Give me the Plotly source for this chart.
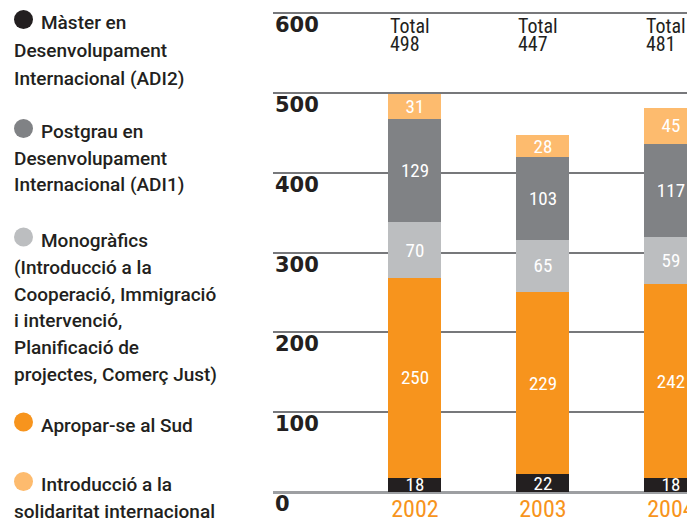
import plotly.graph_objects as go

YEARS = ['2002', '2003', '2004']
MASTER_ADI2 = [18, 22, 18]
APROPAR_SUD = [250, 229, 242]
MONOGRAFICS = [70, 65, 59]
POSTGRAU_ADI1 = [129, 103, 117]
INTRO_SOLIDARITAT = [31, 28, 45]
Y_TICKS = [0, 100, 200, 300, 400, 500, 600]

LEGEND_ITEMS = [
  ['Màster en', 'Desenvolupament', 'Internacional (ADI2)'],
  ['Postgrau en', 'Desenvolupament', 'Internacional (ADI1)'],
  ['Monogràfics', '(Introducció a la', 'Cooperació, Immigració',
   'i intervenció,', 'Planificació de', 'projectes, Comerç Just)'],
  ['Apropar-se al Sud'],
  ['Introducció a la', 'solidaritat internacional'],
]

# page body has an 8px margin, so the figure is drawn 8px smaller
OFF = 8
W, H = 695 - OFF, 519 - OFF
DARK = '#231f20'
COLORS = ['#231f20', '#808285', '#bcbec0', '#f7941d', '#fdbb6e']  # legend order
NARROW = 'Liberation Sans Narrow, Roboto Condensed, Arial Narrow, sans-serif'
LEGEND_FONT = 'Roboto, Liberation Sans, sans-serif'

def px(x):
  # screen pixel -> paper x
  return (x - OFF) / W

def py(y):
  # screen pixel -> paper y
  return 1 - (y - OFF) / H

# stacked from bottom to top
series = [
  ('Màster ADI2', MASTER_ADI2, COLORS[0]),
  ('Apropar-se al Sud', APROPAR_SUD, COLORS[3]),
  ('Monogràfics', MONOGRAFICS, COLORS[2]),
  ('Postgrau ADI1', POSTGRAU_ADI1, COLORS[1]),
  ('Introducció', INTRO_SOLIDARITAT, COLORS[4]),
]

fig = go.Figure()
for name, vals, col in series:
  fig.add_trace(go.Bar(
    x=YEARS, y=vals, name=name, marker_color=col, marker_line_width=0,
    width=0.414, text=[str(v) for v in vals], textposition='inside',
    insidetextanchor='middle', textangle=0,
    textfont=dict(family=NARROW, size=19, color='white'),
  ))

totals = [sum(t) for t in zip(MASTER_ADI2, APROPAR_SUD, MONOGRAFICS, POSTGRAU_ADI1, INTRO_SOLIDARITAT)]

annotations = []
for i, tot in enumerate(totals):
  for label, shift in (('Total', 1), (str(tot), -17)):
    annotations.append(dict(
      x=i, y=600, xref='x', yref='y', xanchor='left', yanchor='top',
      xshift=-27, yshift=shift, text=label, showarrow=False,
      font=dict(family=NARROW, size=20, color=DARK),
    ))

for t in Y_TICKS:
  annotations.append(dict(
    x=px(273), y=t, xref='paper', yref='y', xanchor='left', yanchor='top',
    yshift=2, text='<b>%d</b>' % t, showarrow=False,
    font=dict(family='DejaVu Sans', size=21, color=DARK),
  ))

# legend on the left, drawn by hand
line_y = [[22.5, 50, 78], [131.5, 158.5, 185], [240, 267, 294, 320.5, 347, 374],
          [425], [484.5, 511]]
shapes = []
for item, ys, col in zip(LEGEND_ITEMS, line_y, COLORS):
  for k, (txt, y) in enumerate(zip(item, ys)):
    annotations.append(dict(
      x=px(39 if k == 0 else 12), y=py(y), xref='paper', yref='paper',
      xanchor='left', yanchor='middle', text=txt, showarrow=False,
      font=dict(family=LEGEND_FONT, size=19, color=DARK, weight=500),
    ))
  cy = ys[0] - 3
  shapes.append(dict(
    type='circle', xref='paper', yref='paper', x0=px(14), x1=px(33),
    y0=py(cy + 9.5), y1=py(cy - 9.5), fillcolor=col, line_width=0,
  ))

# 0 at screen y=492, 600 at y=13
unit = (492 - 13) / 600
ytop = 602

fig.update_layout(
  width=W, height=H, barmode='stack', showlegend=False,
  margin=dict(l=0, r=0, t=0, b=0),
  paper_bgcolor='white', plot_bgcolor='white',
  annotations=annotations, shapes=shapes,
  uniformtext=dict(minsize=19, mode='show'),
  xaxis=dict(
    domain=[px(273), 1], type='category', range=[-1.109, 2.188],
    showgrid=False, showline=False, ticks='', automargin=False,
    tickfont=dict(family=NARROW, size=24, color='#f7941d'),
  ),
  yaxis=dict(
    domain=[py(492), py(492 - ytop * unit)], range=[0, ytop], tickvals=Y_TICKS,
    showticklabels=False, showgrid=True, gridcolor='#77787b', gridwidth=1.5,
    zeroline=True, zerolinecolor='#9d9fa2', zerolinewidth=2.5,
    automargin=False,
  ),
)

fig.write_html("out.html")
